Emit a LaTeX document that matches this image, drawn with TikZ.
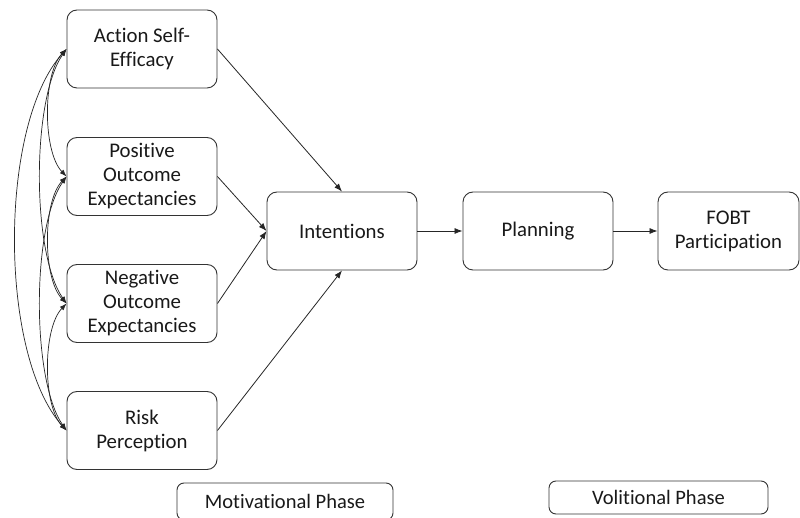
\documentclass[tikz,border=0pt]{standalone}
\usepackage{fontspec}
\setmainfont{Carlito}[Ligatures=NoCommon]
\usetikzlibrary{arrows.meta}
\begin{document}
\begin{tikzpicture}[x=1pt,y=-1pt,
  box/.style={draw=black!80, line width=0.9pt, rounded corners=10pt, fill=white,
    minimum width=150pt, minimum height=78pt, align=center, inner sep=2pt,
    font=\fontsize{20.8}{24}\selectfont, text=black!90},
  phase/.style={draw=black!80, line width=0.9pt, rounded corners=7pt, fill=white,
    align=center, inner sep=0pt, font=\fontsize{20.5}{24}\selectfont, text=black!90},
  arr/.style={draw=black!85, line width=0.8pt, -{Latex[length=8pt,width=6pt]}},
  barr/.style={draw=black!85, line width=0.7pt, {Latex[length=7pt,width=5pt]}-{Latex[length=7pt,width=5pt]}}
]
\clip (0,0) rectangle (800,518);
\fill[white] (0,0) rectangle (800,518);

\node[box] (a) at (142,49) {Action Self-\\Efficacy};
\node[box] (p) at (142,176.5) {Positive\\Outcome\\Expectancies};
\node[box] (n) at (142,303.5) {Negative\\Outcome\\Expectancies};
\node[box] (r) at (142,430.5) {Risk\\Perception};

\node[box] (i) at (342,231) {Intentions};
\node[box] (pl) at (538,231) {Planning};
\node[box, minimum width=141pt] (f) at (728.5,231) {FOBT\\Participation};

\node[phase, minimum width=216pt, minimum height=37pt] (mot) at (285,501.5) {Motivational Phase};
\node[phase, minimum width=219pt, minimum height=33pt] (vol) at (658.5,497.5) {Volitional Phase};

% straight arrows
\draw[arr] (a.east) -- (i.north);
\draw[arr] (p.east) -- (i.west);
\draw[arr] (n.east) -- (i.west);
\draw[arr] (r.east) -- (i.south);
\draw[arr] (i.east) -- (pl.west);
\draw[arr] (pl.east) -- (f.west);

% correlations on the left
\draw[barr] (a.west) .. controls +(-24,25) and +(-24,-25) .. (p.west);
\draw[barr] (p.west) .. controls +(-24,25) and +(-24,-25) .. (n.west);
\draw[barr] (n.west) .. controls +(-24,25) and +(-24,-25) .. (r.west);
\draw[barr] (a.west) .. controls +(-35,50) and +(-35,-50) .. (n.west);
\draw[barr] (p.west) .. controls +(-35,50) and +(-35,-50) .. (r.west);
\draw[barr] (a.west) .. controls +(-68,76) and +(-68,-76) .. (r.west);
\end{tikzpicture}
\end{document}
